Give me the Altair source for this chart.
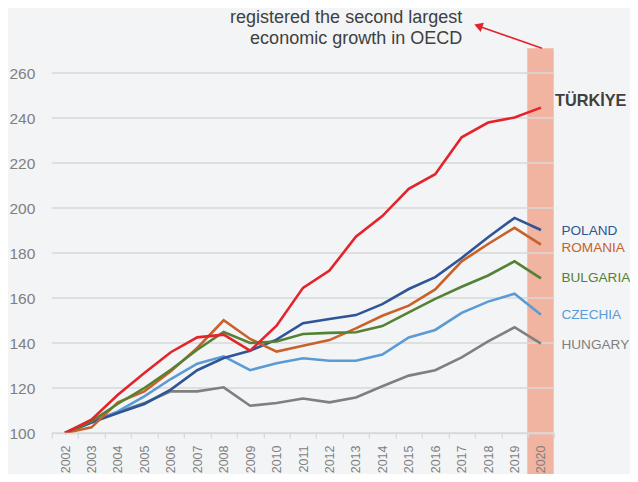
import altair as alt
import pandas as pd

# ---------------- data ----------------
years = [str(y) for y in range(2002, 2021)]

turkiye  = [100, 105.9, 117.0, 126.7, 135.9, 142.5, 143.7, 136.6, 147.7, 164.5, 172.2, 187.2, 196.4, 208.5, 215.0, 231.4, 238.0, 240.2, 244.6]
poland   = [100, 104.7, 108.9, 112.9, 119.3, 127.9, 133.3, 136.6, 141.5, 148.8, 150.7, 152.4, 157.3, 164.0, 169.3, 177.8, 187.0, 195.6, 190.2]
romania  = [100, 102.5, 113.6, 118.5, 127.4, 137.8, 150.1, 141.8, 136.2, 138.8, 141.3, 146.5, 152.1, 156.6, 163.8, 176.3, 184.0, 191.2, 183.7]
bulgaria = [100, 105.2, 113.0, 120.0, 128.1, 137.0, 144.9, 140.0, 140.7, 144.0, 144.5, 144.8, 147.5, 153.6, 159.6, 165.0, 170.0, 176.3, 168.7]
czechia  = [100, 104.7, 109.6, 116.3, 124.0, 130.8, 134.1, 127.9, 131.0, 133.2, 132.1, 132.1, 134.9, 142.5, 145.8, 153.4, 158.4, 161.9, 152.6]
hungary  = [100, 105.2, 109.2, 113.3, 118.5, 118.5, 120.3, 112.1, 113.3, 115.3, 113.6, 115.8, 120.8, 125.5, 127.9, 133.6, 140.7, 147.0, 139.7]

countries = ["HUNGARY", "CZECHIA", "POLAND", "ROMANIA", "BULGARIA", "TÜRKİYE"]
series = [hungary, czechia, poland, romania, bulgaria, turkiye]
colors = ["#7F7F7F", "#5B9BD5", "#2F5597", "#C8612A", "#548235", "#E3242B"]

y_ticks = [100, 120, 140, 160, 180, 200, 220, 240, 260]
highlight_year = ["2020"]
note = ["registered the second largest", "economic growth in OECD"]

# ---------------- layout ----------------
W = 502.4
H = 384.75
PAD_L, PAD_T = 43.8, 40.25
PAD_R = 622 - PAD_L - W
PAD_B = 466 - PAD_T - H

rows = []
for name, vals in zip(countries, series):
    for yr, v in zip(years, vals):
        rows.append({"country": name, "year": yr, "value": v})
df = pd.DataFrame(rows)

xscale = alt.Scale(domain=years, paddingInner=0, paddingOuter=0)
yscale = alt.Scale(domain=[100, 271], nice=False, zero=False)

GRID = "#D9D9D9"
LABEL = "#7F7F7F"

x_axis = alt.Axis(
    title=None, labelAngle=-90, labelFontSize=12.5, labelColor=LABEL,
    labelFont="Liberation Sans", tickBand="extent", tickSize=5, tickColor=GRID,
    tickWidth=1.3, domainColor=GRID, domainWidth=1.3, labelPadding=7,
    grid=False, zindex=1,
)
y_axis = alt.Axis(
    title=None, values=y_ticks, labelFontSize=15.5, labelColor=LABEL,
    labelFont="Liberation Sans", ticks=False, domain=False, grid=False,
    labelPadding=17,
)

X = alt.X("year:O", scale=xscale, axis=x_axis)
Y = alt.Y("value:Q", scale=yscale, axis=y_axis)

band = alt.Chart(pd.DataFrame({"year": highlight_year})).mark_rect(
    color="#F0B4A0", xOffset=-0.5, x2Offset=-2
).encode(
    x=X, y=alt.value(0), y2=alt.value(H + 47)
)

grid = alt.Chart(pd.DataFrame({"value": y_ticks})).mark_rule(
    color=GRID, strokeWidth=1.3
).encode(
    x=alt.value(0), x2=alt.value(W), y=Y
)

lines = alt.Chart(df).mark_line(strokeWidth=2.6).encode(
    x=X, y=Y,
    color=alt.Color("country:N", scale=alt.Scale(domain=countries, range=colors), legend=None),
    detail="country:N",
)

label_dy = {"HUNGARY": 5, "CZECHIA": 4, "POLAND": 4.5, "ROMANIA": 7.5, "BULGARIA": 4, "TÜRKİYE": -1.5}
label_layers = []
for name, vals, col in zip(countries, series, colors):
    ldf = pd.DataFrame({"year": [years[-1]], "value": [vals[-1]], "label": [name]})
    if name == "TÜRKİYE":
        mk = alt.Chart(ldf).mark_text(
            align="left", baseline="alphabetic", dx=14, dy=label_dy[name],
            fontSize=16.3, fontWeight="bold", font="Liberation Sans", color="#404040",
        )
    else:
        mk = alt.Chart(ldf).mark_text(
            align="left", baseline="alphabetic", dx=20.5, dy=label_dy[name],
            fontSize=13.6, font="Liberation Sans", color=col,
        )
    label_layers.append(mk.encode(x=X, y=Y, text="label:N"))

annot = alt.Chart(pd.DataFrame({"t": [note]})).mark_text(
    align="right", baseline="alphabetic", fontSize=18, lineHeight=20.8,
    font="Liberation Sans", color="#404040",
).encode(x=alt.value(410.4), y=alt.value(-25.0), text="t")

arrow_line = alt.Chart(pd.DataFrame({"a": [0]})).mark_rule(
    color="#E3242B", strokeWidth=1.6
).encode(x=alt.value(490.2), y=alt.value(0.0), x2=alt.value(428.5), y2=alt.value(-21.6))

arrow_head = alt.Chart(pd.DataFrame({"a": [0]})).mark_point(
    shape="triangle-up", filled=True, color="#E3242B", size=95, angle=289, opacity=1
).encode(x=alt.value(426.5), y=alt.value(-22.3))

chart = alt.layer(
    band, grid, lines, *label_layers, annot, arrow_line, arrow_head
).properties(
    width=W, height=H,
    autosize=alt.AutoSizeParams(type="none"),
    padding={"left": PAD_L, "top": PAD_T, "right": PAD_R, "bottom": PAD_B},
    background="#F3F4F6",
).configure_view(stroke=None)

chart.save("out.html", embed_options={"renderer": "svg", "actions": False})
